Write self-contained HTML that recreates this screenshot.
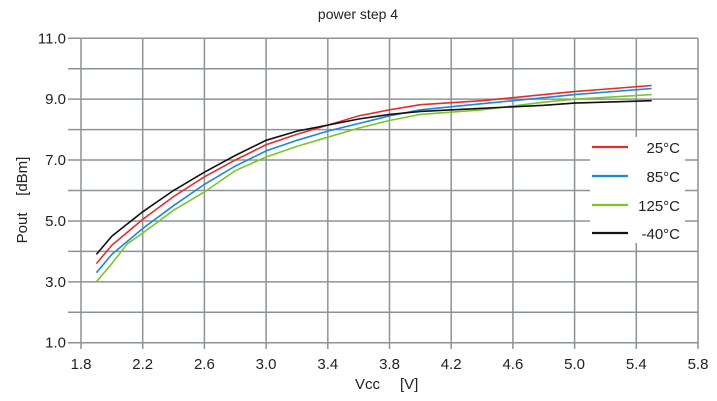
<!DOCTYPE html>
<html><head><meta charset="utf-8"><style>
body{margin:0;background:#fff}
svg{display:block;font-family:"Liberation Sans",Arial,sans-serif}
</style></head><body>
<svg id="s" width="717" height="401" viewBox="0 0 717 401" xmlns="http://www.w3.org/2000/svg">
<rect width="717" height="401" fill="#fff"/>
<text x="358" y="19" font-size="14" text-anchor="middle" fill="#222">power step 4</text>
<g id="grid" stroke="#8c9396" stroke-width="1.5"></g>
<g id="labels" font-size="15" fill="#222"></g>
<g id="curves" fill="none" stroke-width="1.6"></g>
<rect x="590" y="137" width="95" height="106" fill="#fff"/>
<g font-size="15" fill="#222" text-anchor="end">
<line x1="592" y1="147" x2="628" y2="147" stroke="#e0302a" stroke-width="2.2"/><text x="680" y="153">25°C</text>
<line x1="592" y1="176" x2="628" y2="176" stroke="#1a88d8" stroke-width="2.2"/><text x="680" y="182">85°C</text>
<line x1="592" y1="205" x2="628" y2="205" stroke="#7cc42a" stroke-width="2.2"/><text x="680" y="211">125°C</text>
<line x1="592" y1="233" x2="628" y2="233" stroke="#111" stroke-width="2.2"/><text x="680" y="239">-40°C</text>
</g>
<text x="355" y="389" font-size="15" fill="#222">Vcc</text>
<text x="400" y="389" font-size="15" fill="#222">[V]</text>
<text transform="translate(27,200) rotate(-90)" font-size="15" fill="#222" text-anchor="middle">Pout&#160;&#160;&#160;&#160;[dBm]</text>
</svg>
<script>
var X=function(v){return 81+(v-1.8)*154.25},Y=function(p){return 342.7-(p-1)*30.44};
var g=document.getElementById('grid'),L=document.getElementById('labels'),ns='http://www.w3.org/2000/svg';
function el(par,t,a,txt){var e=document.createElementNS(ns,t);for(var k in a)e.setAttribute(k,a[k]);if(txt)e.textContent=txt;par.appendChild(e);}
for(var i=0;i<=10;i++){var p=1+i,y=Y(p);el(g,'line',{x1:68,y1:y,x2:X(5.8),y2:y});
 if(i%2==0)el(L,'text',{x:66,y:y+5,'text-anchor':'end'},p.toFixed(1));}
for(var i=0;i<=10;i++){var v=1.8+0.4*i,x=X(v);el(g,'line',{x1:x,y1:Y(11),x2:x,y2:349});
 el(L,'text',{x:x,y:369,'text-anchor':'middle'},v.toFixed(1));}
var D={
'#111':[[1.9,3.9],[2.0,4.5],[2.2,5.3],[2.4,6.0],[2.6,6.6],[2.8,7.15],[3.0,7.65],[3.2,7.95],[3.4,8.15],[3.6,8.35],[3.8,8.5],[4.0,8.6],[4.4,8.7],[4.8,8.8],[5.0,8.87],[5.5,8.95]],
'#e0302a':[[1.9,3.6],[2.0,4.2],[2.2,5.05],[2.4,5.8],[2.6,6.45],[2.8,7.0],[3.0,7.5],[3.2,7.85],[3.4,8.15],[3.6,8.45],[3.8,8.65],[4.0,8.82],[4.4,8.95],[4.8,9.15],[5.0,9.25],[5.5,9.45]],
'#1a88d8':[[1.9,3.3],[2.0,3.9],[2.2,4.75],[2.4,5.5],[2.6,6.2],[2.8,6.8],[3.0,7.3],[3.2,7.65],[3.4,7.95],[3.6,8.2],[3.8,8.45],[4.0,8.65],[4.4,8.85],[4.8,9.05],[5.0,9.15],[5.5,9.35]],
'#7cc42a':[[1.9,3.0],[2.0,3.6],[2.1,4.25],[2.2,4.6],[2.4,5.35],[2.6,5.95],[2.8,6.65],[3.0,7.1],[3.2,7.45],[3.4,7.75],[3.6,8.05],[3.8,8.3],[4.0,8.5],[4.4,8.65],[4.8,8.9],[5.0,9.0],[5.5,9.15]]};
var c=document.getElementById('curves');
['#7cc42a','#1a88d8','#e0302a','#111'].forEach(function(k){el(c,'polyline',{stroke:k,points:D[k].map(function(q){return X(q[0]).toFixed(1)+','+Y(q[1]).toFixed(1)}).join(' ')});});
</script>
</body></html>
